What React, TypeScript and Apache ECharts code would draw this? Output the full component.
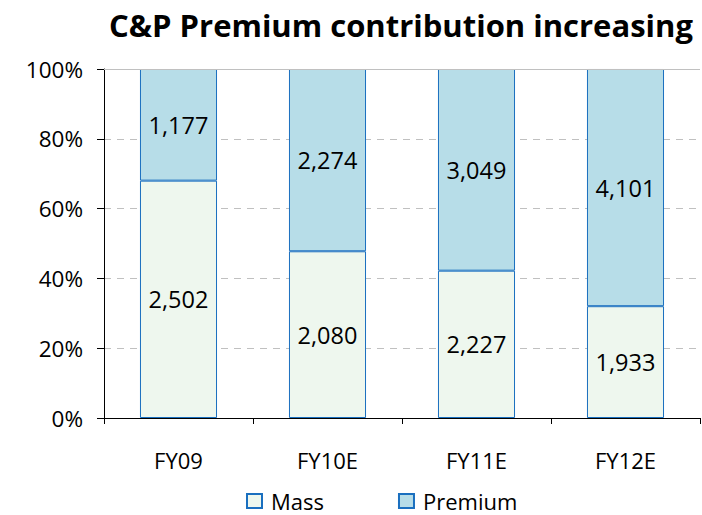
import React, { useEffect, useRef } from "react";
import * as echarts from "echarts";

const categories = ["FY09", "FY10E", "FY11E", "FY12E"];
const massValues = [2502, 2080, 2227, 1933];
const premiumValues = [1177, 2274, 3049, 4101];
const yTicks = [0, 20, 40, 60, 80, 100];

const FONT = "'Open Sans', 'Noto Sans', sans-serif";
const BORDER = "#1a6fbf";

export default function App() {
  const ref = useRef<HTMLDivElement>(null);
  useEffect(() => {
    if (!ref.current) return;
    const chart = echarts.init(ref.current, undefined, { renderer: "svg" });
    const totals = massValues.map((m, i) => m + premiumValues[i]);
    const massPct = massValues.map((m, i) => (m / totals[i]) * 100);
    const premPct = premiumValues.map((p, i) => (p / totals[i]) * 100);
    const fmt = (v: number) => v.toLocaleString("en-US");
    chart.setOption({
      animation: false,
      title: {
        text: "C&P Premium contribution increasing",
        left: 396,
        top: 4,
        textAlign: "center",
        textStyle: { fontFamily: FONT, fontSize: 31, fontWeight: "bold", color: "#000" },
      },
      legend: {
        top: 490,
        left: 246,
        padding: 0,
        itemWidth: 15,
        itemHeight: 14,
        itemGap: 74,
        icon: "rect",
        textStyle: { fontFamily: FONT, fontSize: 22, color: "#000", padding: [0, 0, 0, 4] },
        data: ["Mass", "Premium"],
      },
      grid: { left: 104, right: 2, top: 69, bottom: 97, containLabel: false },
      xAxis: {
        type: "category",
        data: categories,
        axisLine: { lineStyle: { color: "#000", width: 1 } },
        axisTick: { show: true, length: 6, lineStyle: { color: "#000" } },
        axisLabel: { fontFamily: FONT, fontSize: 22, color: "#000", margin: 31 },
      },
      yAxis: {
        type: "value",
        min: 0,
        max: 100,
        interval: 20,
        axisLine: { show: true, lineStyle: { color: "#000" } },
        axisTick: { show: true, length: 7, lineStyle: { color: "#000" } },
        axisLabel: {
          fontFamily: FONT,
          fontSize: 22.5,
          color: "#000",
          margin: 21,
          formatter: (v: number) => (yTicks.includes(v) ? v + "%" : ""),
        },
        splitLine: { show: true, lineStyle: { color: "#c0c0c0", type: [7, 6] } },
      },
      series: [
        {
          name: "Mass",
          type: "bar",
          stack: "t",
          barWidth: "51.7%",
          data: massPct,
          itemStyle: { color: "#eef7ee", borderColor: BORDER, borderWidth: 1 },
          label: {
            show: true,
            position: "inside",
            fontFamily: FONT,
            fontSize: 23.5,
            color: "#000",
            formatter: (p: any) => fmt(massValues[p.dataIndex]),
          },
          markLine: {
            silent: true,
            symbol: "none",
            label: { show: false },
            lineStyle: { color: "#c0c0c0", type: "solid", width: 1 },
            data: [{ yAxis: 100 }],
          },
        },
        {
          name: "Premium",
          type: "bar",
          stack: "t",
          data: premPct,
          itemStyle: { color: "#b7dde8", borderColor: BORDER, borderWidth: 1 },
          label: {
            show: true,
            position: "inside",
            fontFamily: FONT,
            fontSize: 23.5,
            color: "#000",
            formatter: (p: any) => fmt(premiumValues[p.dataIndex]),
          },
        },
      ],
    });
    return () => chart.dispose();
  }, []);
  return <div ref={ref} style={{ width: 702, height: 515, position: "absolute", left: 0, top: 0 }} />;
}
